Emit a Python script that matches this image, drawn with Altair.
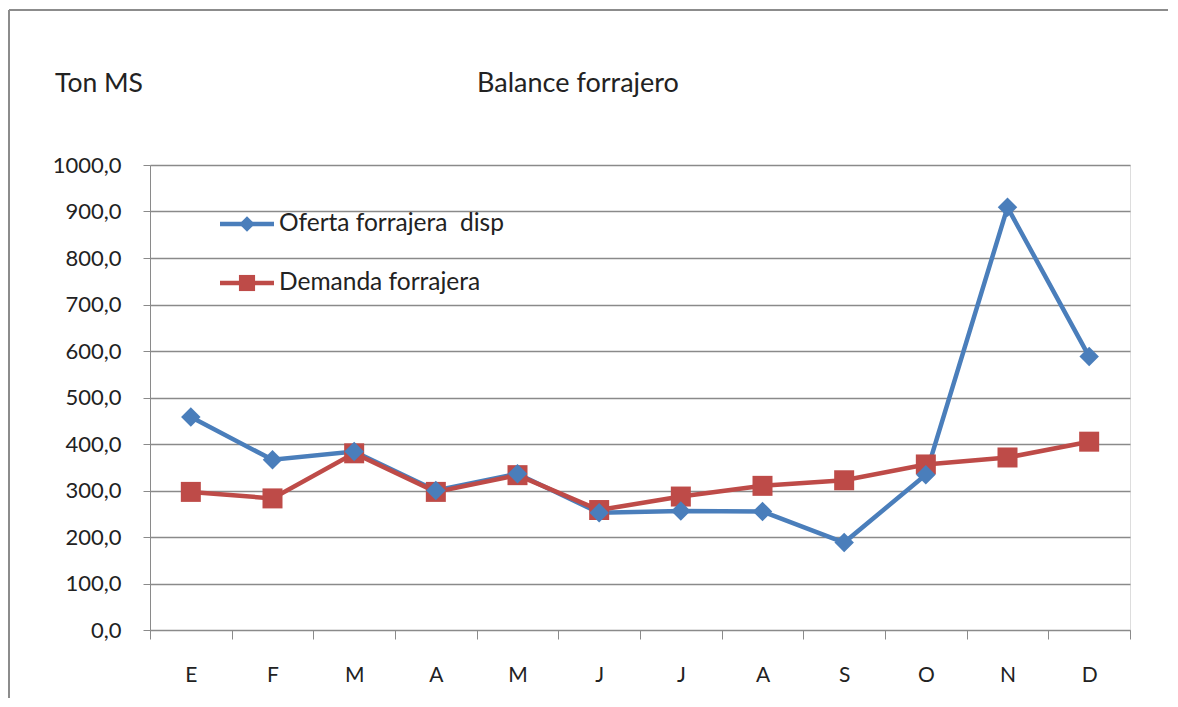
import altair as alt
import pandas as pd

months = ["E", "F", "M", "A", "M", "J", "J", "A", "S", "O", "N", "D"]
oferta = [458, 366, 384, 300, 336, 252, 256, 255, 188, 334, 909, 588]
demanda = [297, 283, 380, 297, 333, 258, 287, 310, 322, 356, 371, 405]
series_names = ["Oferta forrajera\u00a0 disp", "Demanda forrajera"]
y_ticks = list(range(0, 1001, 100))

BLUE = "#4A7EBB"
RED = "#BE4B48"
GRID = "#8a8a8a"
FONT = "Lato"

rows = []
for i, m in enumerate(months):
    rows.append({"idx": i, "serie": series_names[0], "valor": oferta[i]})
    rows.append({"idx": i, "serie": series_names[1], "valor": demanda[i]})
df = pd.DataFrame(rows)

label_expr = "[" + ",".join("'" + m + "'" for m in months) + "][datum.value]"

x_enc = alt.X("idx:O", title=None,
              scale=alt.Scale(paddingInner=0, paddingOuter=0),
              axis=alt.Axis(labelExpr=label_expr, labelAngle=0, tickBand="extent",
                            tickSize=9, tickColor=GRID, domainColor=GRID,
                            labelPadding=25, labelFontSize=21, labelFont=FONT,
                            labelColor="#222", grid=False))
y_enc = alt.Y("valor:Q", title=None,
              scale=alt.Scale(domain=[0, 1000], nice=False),
              axis=alt.Axis(values=y_ticks,
                            labelExpr="replace(format(datum.value, '.1f'), '.', ',')",
                            labelFontSize=22, labelFont=FONT, labelColor="#222",
                            tickSize=7, tickColor=GRID, domainColor=GRID,
                            gridColor=GRID, gridWidth=1.4, labelPadding=22))
color_enc = alt.Color("serie:N", legend=None,
                      scale=alt.Scale(domain=series_names, range=[BLUE, RED]))

base = alt.Chart(df)
lines = base.mark_line(strokeWidth=4.5).encode(x=x_enc, y=y_enc, color=color_enc,
                                               detail="serie:N")
pts_o = base.transform_filter(alt.datum.serie == series_names[0]).mark_point(
    filled=True, opacity=1, size=380, shape="diamond", color=BLUE).encode(x=x_enc, y=y_enc)
pts_d = base.transform_filter(alt.datum.serie == series_names[1]).mark_point(
    filled=True, opacity=1, size=400, shape="square", color=RED).encode(x=x_enc, y=y_enc)

one = alt.Chart(pd.DataFrame({"serie": series_names}))

def legend_item(k, color, shape, size, yy):
    d = one.transform_filter(alt.datum.serie == series_names[k])
    rule = d.mark_rule(color=color, strokeWidth=4.5).encode(
        x=alt.value(70), x2=alt.value(124), y=alt.value(yy))
    pt = d.mark_point(filled=True, opacity=1, color=color, shape=shape, size=size).encode(
        x=alt.value(97), y=alt.value(yy))
    tx = d.mark_text(align="left", baseline="middle", fontSize=24.5, font=FONT,
                     color="#222").encode(x=alt.value(129), y=alt.value(yy), text="serie:N")
    return rule + pt + tx

leg = legend_item(0, BLUE, "diamond", 240, 59) + legend_item(1, RED, "square", 260, 118)

titles = pd.DataFrame({"t": ["Balance forrajero", "Ton MS"]})
title_t = alt.Chart(titles).transform_filter(alt.datum.t == "Balance forrajero").mark_text(
    align="center", baseline="middle", fontSize=27, font=FONT, color="#222").encode(
    x=alt.value(428), y=alt.value(-81), text="t:N")
unit_t = alt.Chart(titles).transform_filter(alt.datum.t == "Ton MS").mark_text(
    align="left", baseline="middle", fontSize=26.5, font=FONT, color="#222").encode(
    x=alt.value(-95), y=alt.value(-81), text="t:N")

frame = alt.Chart(pd.DataFrame({"a": [0]}))
frame_top = frame.mark_rule(color="#8c8c8c", strokeWidth=2).encode(
    x=alt.value(-141), x2=alt.value(1100), y=alt.value(-155))
frame_left = frame.mark_rule(color="#8c8c8c", strokeWidth=2).encode(
    x=alt.value(-141), y=alt.value(-155), y2=alt.value(700))

chart = alt.layer(frame_top, frame_left, lines, pts_d, pts_o, leg, title_t, unit_t).properties(
    width=980, height=465,
    autosize=alt.AutoSizeParams(type="none"),
    padding={"left": 142, "top": 157, "right": 38, "bottom": 68},
).configure_view(strokeWidth=0).configure(background="white")

chart.save("out.html", embed_options={"renderer": "svg", "actions": False})
